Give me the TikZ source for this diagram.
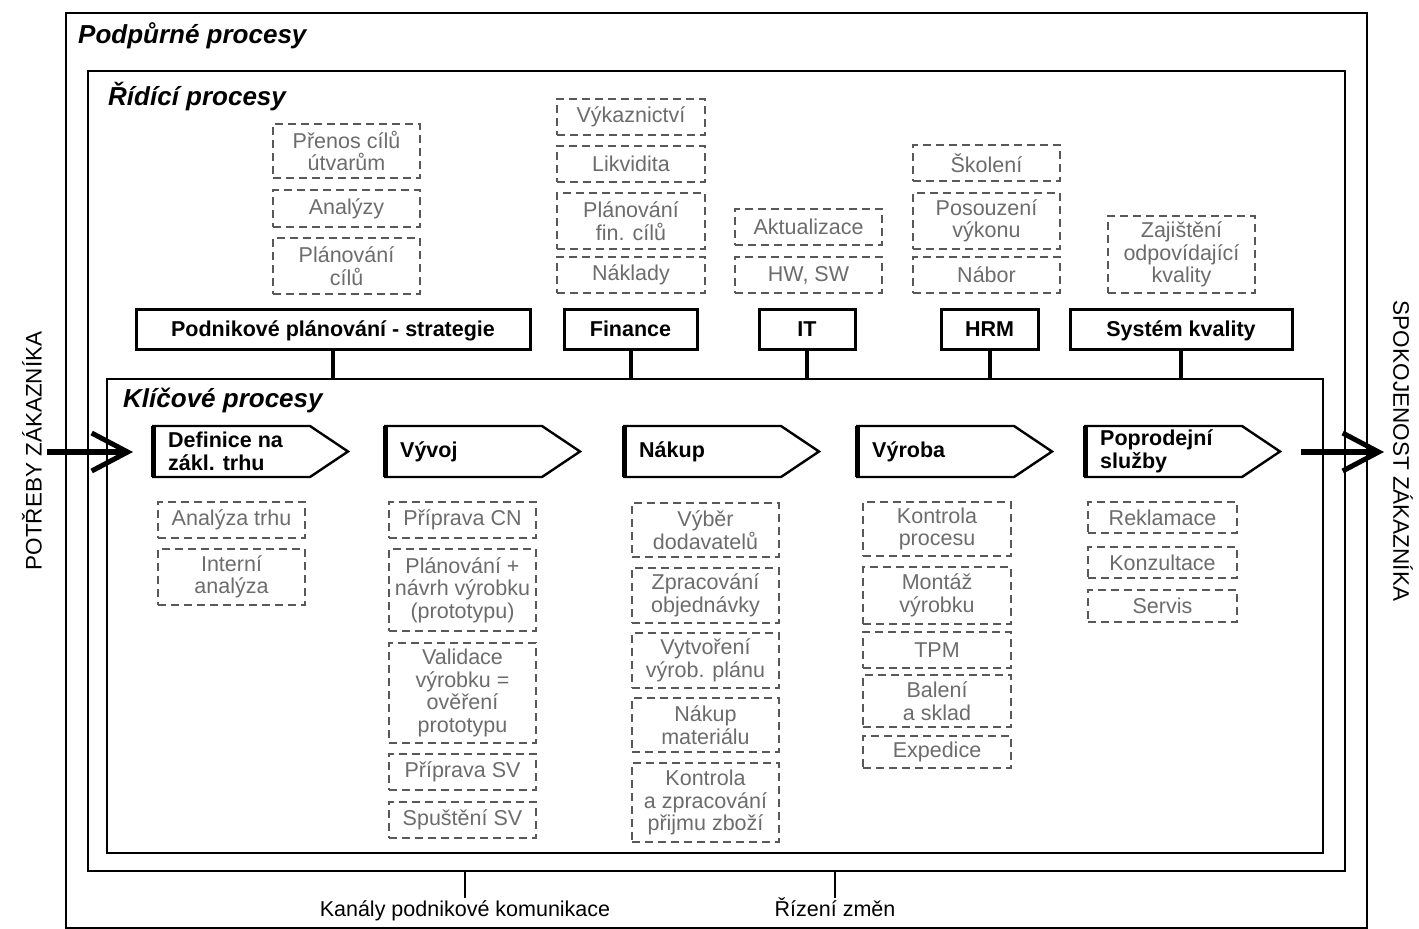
\documentclass[tikz,border=0pt]{standalone}
\usepackage{fontspec}
\setmainfont{Liberation Sans}
\usetikzlibrary{arrows.meta}

\definecolor{subtext}{HTML}{6C6C6C}
\definecolor{subline}{HTML}{585858}

% sub-process box given by its corners: name, x1, y1, x2, y2, text
\newcommand\subproc[6]{%
  \node[subbox, minimum width={#4-#2}, minimum height={#5-#3}] (#1)
    at ({(#2+#4)/2},{(#3+#5)/2}) {#6};}
% control process box: name, x1, y1, x2, y2, text
\newcommand\ctrlproc[6]{%
  \node[ctrlbox, minimum width={#4-#2}, minimum height={#5-#3}] (#1)
    at ({(#2+#4)/2},{(#3+#5)/2}) {#6};}
% key process step (pentagon): name, left x, text
\newcommand\keystep[3]{%
  \draw[stepline] (#2,426) -- (#2+158,426) -- (#2+196,451.5) -- (#2+158,477) -- (#2,477);
  \draw[line width=5pt] (#2+1.5,426) -- (#2+1.5,477);
  \node[steptext] (#1) at (#2+16,451.5) {#3};}

\begin{document}
\begin{tikzpicture}[x=1pt,y=-1pt,
  frame/.style={draw=black, line width=2.8pt, inner sep=0pt},
  title/.style={font=\fontsize{26}{30}\selectfont\bfseries\itshape, anchor=west, inner sep=0pt},
  ctrlbox/.style={draw=black, line width=3pt, inner sep=0pt,
    text height=18pt, text depth=2.6pt,
    font=\fontsize{21.5}{24}\selectfont\bfseries},
  subbox/.style={draw=subline, line width=1.8pt, dash pattern=on 8pt off 5pt,
    text=subtext, align=center, inner sep=0pt,
    font=\fontsize{21.5}{22.5}\selectfont},
  stepline/.style={line width=2.4pt, line join=miter},
  steptext/.style={anchor=west, align=left, inner sep=0pt,
    font=\fontsize{21.5}{22.5}\selectfont\bfseries},
  link/.style={line width=4pt},
  tick/.style={line width=2.5pt},
  bottomtext/.style={font=\fontsize{21.5}{24}\selectfont, inner sep=0pt, anchor=base},
  sidetext/.style={font=\fontsize{22.5}{26}\selectfont, inner sep=0pt},
  bigarrow/.style={line width=6pt, -{Straight Barb[length=36pt, width=38pt, line width=5pt]}}
]
\useasboundingbox (0,0) rectangle (1419,929);
\fill[white] (0,0) rectangle (1419,929);

% nested frames
\node[frame, minimum width=1301, minimum height=915] (support) at (716.5,470.5) {};
\node[frame, minimum width=1257, minimum height=800] (control) at (716.5,471) {};
\node[frame, minimum width=1216, minimum height=474] (key) at (715,616) {};

\node[title] (supportTitle) at (78,36) {Podpůrné procesy};
\node[title] (controlTitle) at (108,97) {Řídící procesy};
\node[title] (keyTitle) at (123,400) {Klíčové procesy};

% control processes
\ctrlproc{strategy}{136}{309}{530}{349}{Podnikové plánování - strategie}
\ctrlproc{finance}{564}{309}{697}{349}{Finance}
\ctrlproc{it}{759}{309}{855}{349}{IT}
\ctrlproc{hrm}{941}{309}{1038}{349}{HRM}
\ctrlproc{quality}{1070}{309}{1292}{349}{Systém kvality}

\foreach \c in {strategy,finance,it,hrm,quality}
  \draw[link] (\c.south) -- (\c.south |- key.north);

% activities of control processes
\subproc{sp1}{273}{124}{420}{178}{Přenos cílů\\útvarům}
\subproc{sp2}{273}{190}{420}{227}{Analýzy}
\subproc{sp3}{273}{238}{420}{294}{Plánování\\cílů}

\subproc{fi1}{557}{99}{705}{135}{Výkaznictví}
\subproc{fi2}{557}{146}{705}{182}{Likvidita}
\subproc{fi3}{557}{193}{705}{249}{Plánování\\fin. cílů}
\subproc{fi4}{557}{257}{705}{293}{Náklady}

\subproc{it1}{735}{209}{882}{245}{Aktualizace}
\subproc{it2}{735}{257}{882}{293}{HW, SW}

\subproc{hr1}{913}{145}{1060}{181}{Školení}
\subproc{hr2}{913}{193}{1060}{249}{Posouzení\\výkonu}
\subproc{hr3}{913}{257}{1060}{293}{Nábor}

\subproc{qa1}{1108}{216}{1255}{293}{Zajištění\\odpovídající\\kvality}

% key process chain
\keystep{definition}{152}{Definice na\\zákl. trhu}
\keystep{development}{384}{Vývoj}
\keystep{purchase}{623}{Nákup}
\keystep{production}{856}{Výroba}
\keystep{aftersales}{1084}{Poprodejní\\služby}

% activities of key processes
\subproc{df1}{158}{502}{305}{538}{Analýza trhu}
\subproc{df2}{158}{549}{305}{605}{Interní\\analýza}

\subproc{vv1}{389}{502}{536}{538}{Příprava CN}
\subproc{vv2}{389}{549}{536}{631}{Plánování +\\návrh výrobku\\(prototypu)}
\subproc{vv3}{389}{643}{536}{743}{Validace\\výrobku =\\ověření\\prototypu}
\subproc{vv4}{389}{754}{536}{790}{Příprava SV}
\subproc{vv5}{389}{802}{536}{838}{Spuštění SV}

\subproc{nk1}{632}{503}{779}{557}{Výběr\\dodavatelů}
\subproc{nk2}{632}{568}{779}{623}{Zpracování\\objednávky}
\subproc{nk3}{632}{633}{779}{688}{Vytvoření\\výrob. plánu}
\subproc{nk4}{632}{698}{779}{752}{Nákup\\materiálu}
\subproc{nk5}{632}{763}{779}{842}{Kontrola\\a zpracování\\přijmu zboží}

\subproc{vr1}{863}{502}{1011}{556}{Kontrola\\procesu}
\subproc{vr2}{863}{567}{1011}{624}{Montáž\\výrobku}
\subproc{vr3}{863}{632}{1011}{668}{TPM}
\subproc{vr4}{863}{675}{1011}{727}{Balení\\a sklad}
\subproc{vr5}{863}{736}{1011}{768}{Expedice}

\subproc{pp1}{1088}{502}{1237}{533}{Reklamace}
\subproc{pp2}{1088}{547}{1237}{578}{Konzultace}
\subproc{pp3}{1088}{590}{1237}{622}{Servis}

% support channels below
\node[bottomtext] (channels) at (465,916) {Kanály podnikové komunikace};
\node[bottomtext] (change) at (835,916) {Řízení změn};
\coordinate (channelsTop) at (465,898);
\coordinate (changeTop) at (835,898);
\draw[tick] (channelsTop |- control.south) -- (channelsTop);
\draw[tick] (changeTop |- control.south) -- (changeTop);

% customer needs in, satisfaction out
\node[sidetext, rotate=90] (needs) at (32,451) {POTŘEBY ZÁKAZNÍKA};
\node[sidetext, rotate=-90] (satisfaction) at (1403,451) {SPOKOJENOST ZÁKAZNÍKA};
\coordinate (needsStart) at (47,452);
\coordinate (needsTip) at (133,452);
\coordinate (outStart) at (1301,452);
\coordinate (outTip) at (1384,452);
\draw[bigarrow] (needsStart) -- (needsTip);
\draw[bigarrow] (outStart) -- (outTip);
\end{tikzpicture}
\end{document}
